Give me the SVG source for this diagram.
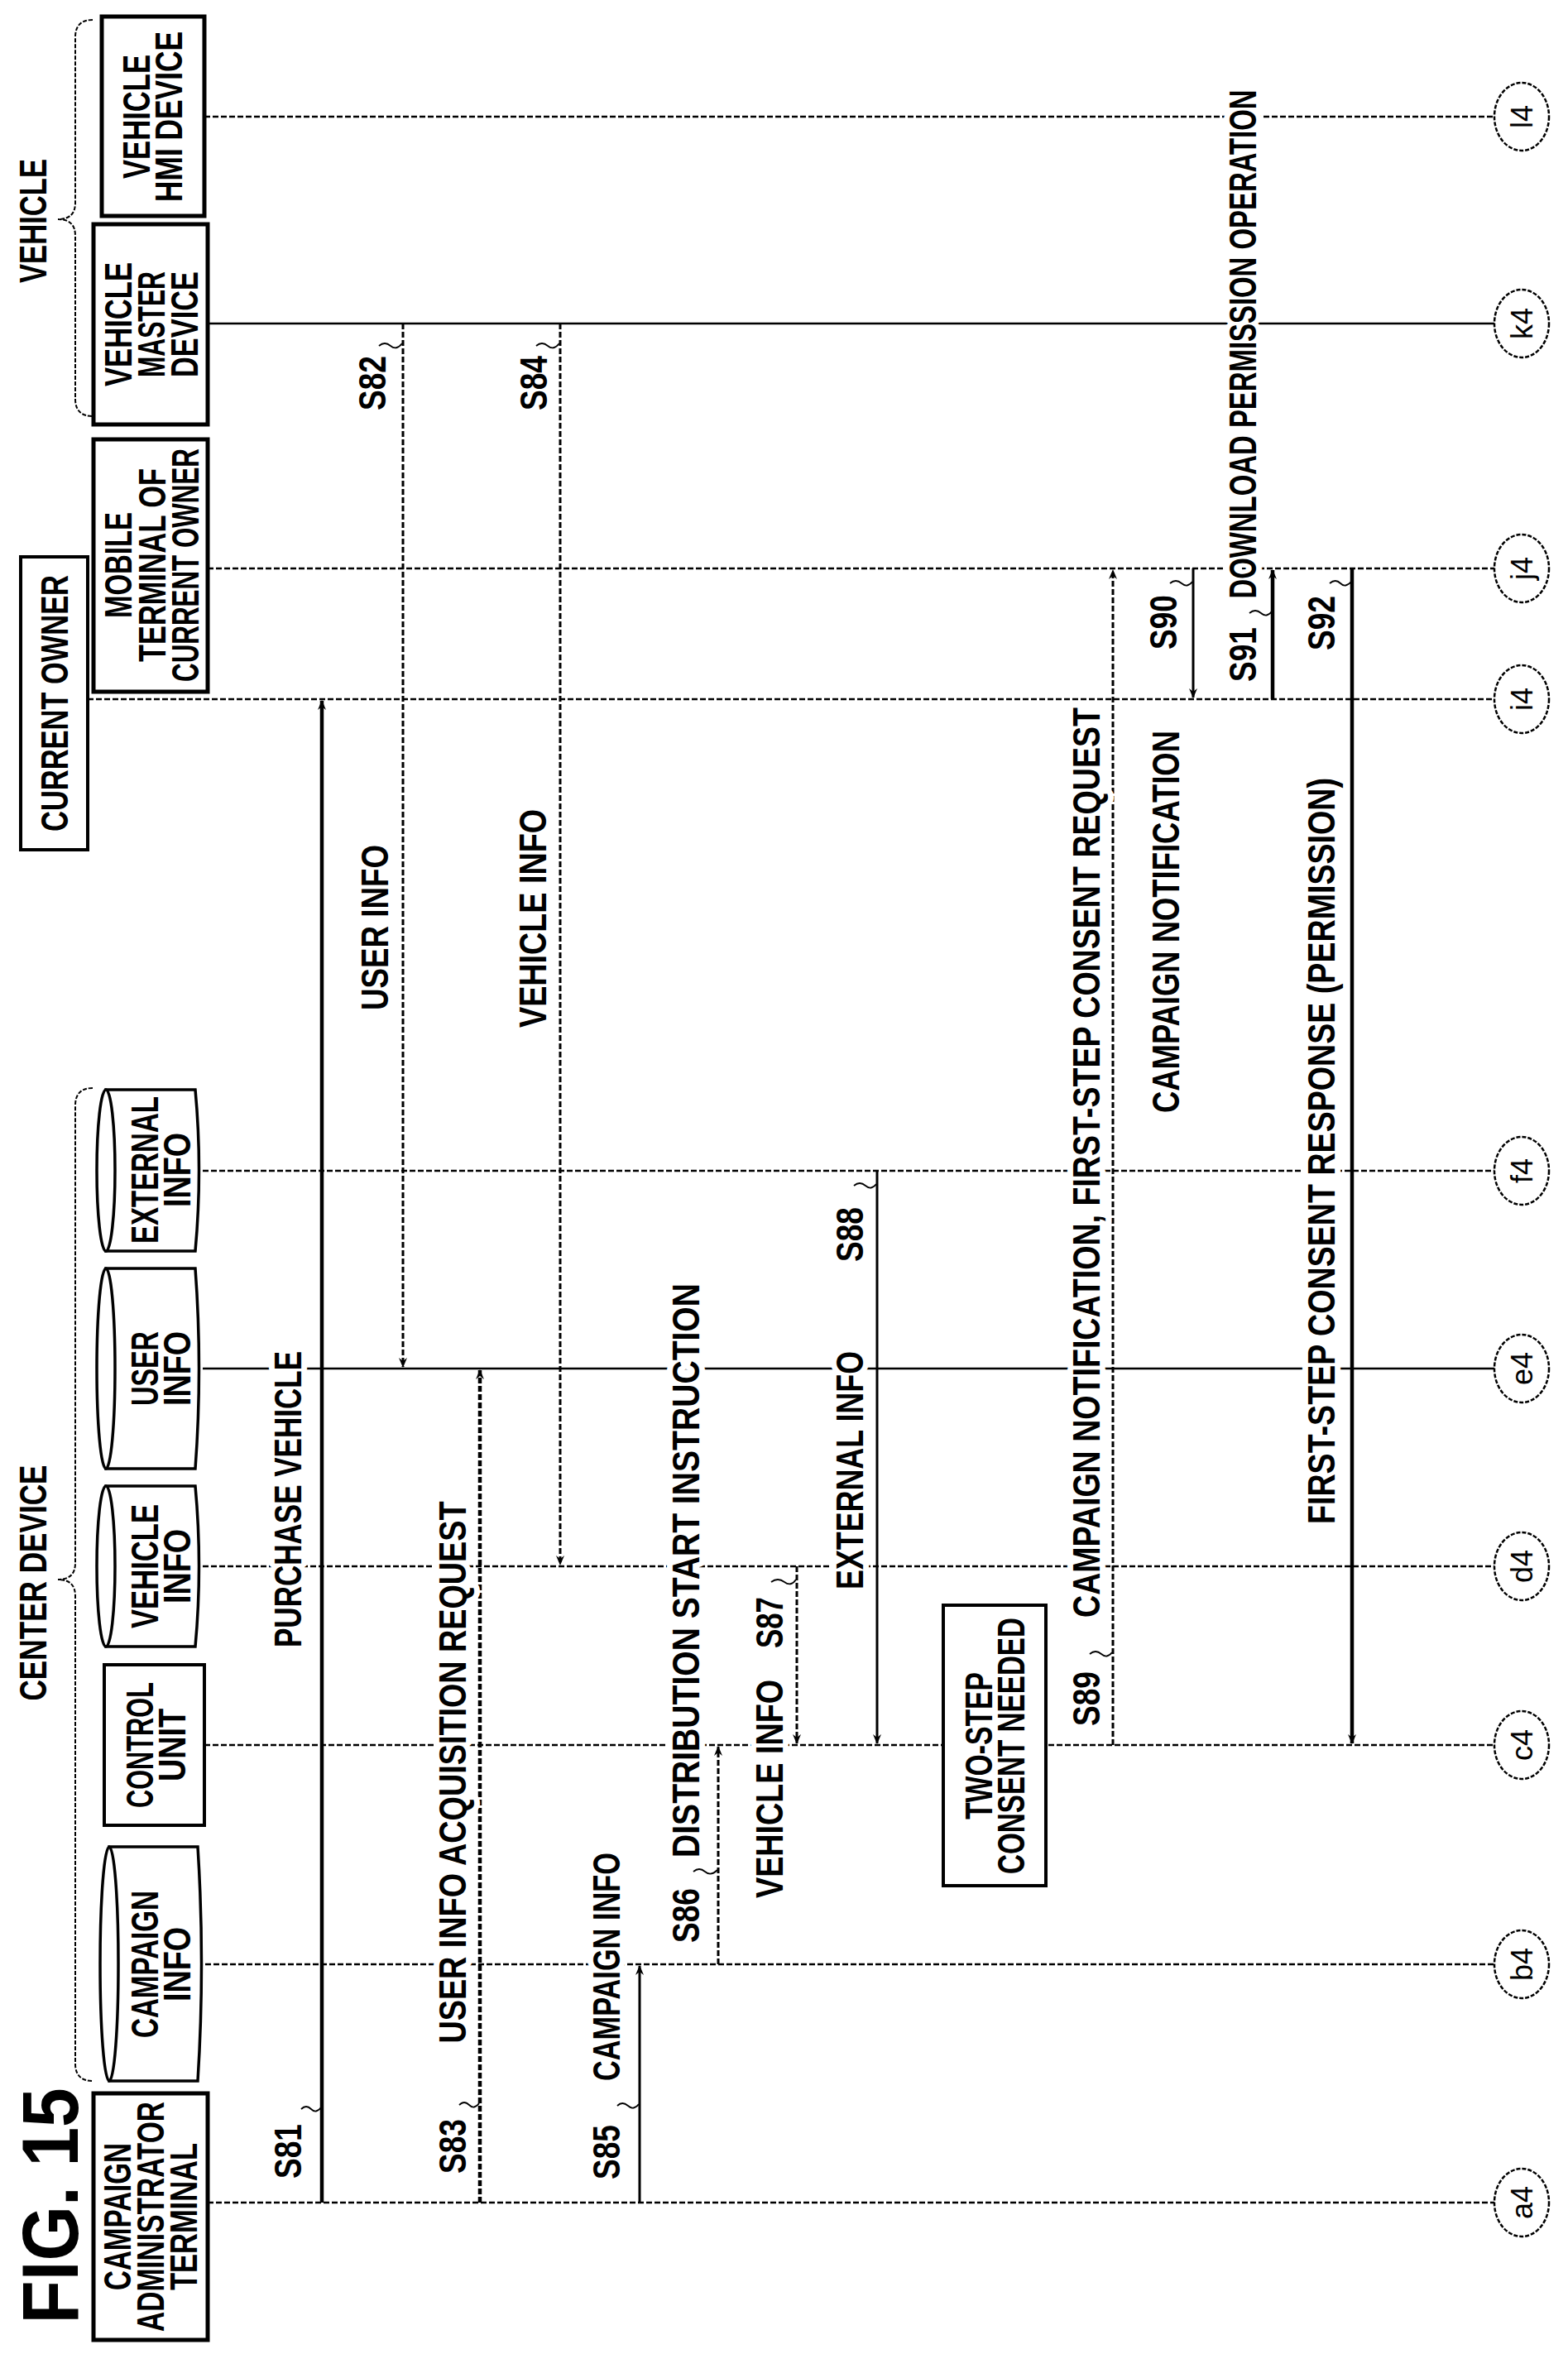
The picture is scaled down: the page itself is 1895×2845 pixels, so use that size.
<svg xmlns="http://www.w3.org/2000/svg" width="1895" height="2845" viewBox="0 0 1895 2845">
<style>
text{font-family:"Liberation Sans",Arial,sans-serif;font-size:46px;font-weight:bold;text-anchor:middle;dominant-baseline:central;fill:#000}
.lbl{stroke:#fff;stroke-width:14px;paint-order:stroke;stroke-linejoin:round}
.box{fill:#fff;stroke:#000;stroke-width:5}
.cyl{fill:#fff;stroke:#000;stroke-width:3.5}
.ll{stroke:#000;stroke-width:2.5;fill:none}
.dash{stroke-dasharray:7 3}
.msg{stroke:#000;stroke-width:3;fill:none;marker-end:url(#ah)}
.thick{stroke-width:4.5}
.tl{stroke:#000;stroke-width:1.8;fill:none}
.br{stroke:#000;stroke-width:2;fill:none;stroke-dasharray:5 2}
.conn{fill:#fff;stroke:#000;stroke-width:2.5;stroke-dasharray:5 2}
.ct{font-size:36px;font-weight:normal}
</style>
<defs>
<marker id="ah" markerWidth="12" markerHeight="10" refX="11" refY="5" orient="auto" markerUnits="userSpaceOnUse" viewBox="0 0 12 10">
<path d="M0,0 L12,5 L0,10 L4,5 Z" fill="#000"/>
</marker>
</defs>

<text transform="translate(60,2666) rotate(-90)" style="font-size:96px" textLength="285" lengthAdjust="spacingAndGlyphs">FIG. 15</text>
<text transform="translate(40,267) rotate(-90)" textLength="150" lengthAdjust="spacingAndGlyphs">VEHICLE</text>
<text transform="translate(40,1913) rotate(-90)" textLength="285" lengthAdjust="spacingAndGlyphs">CENTER DEVICE</text>
<path class="br" d="M112,24 Q91,24 91,45 L91,245 Q91,265 70,265 Q91,265 91,285 L91,482 Q91,503 112,503"/>
<path class="br" d="M112,1315 Q91,1315 91,1336 L91,1889 Q91,1909 70,1909 Q91,1909 91,1929 L91,2494 Q91,2515 112,2515"/>

<g id="lifelines">
<line class="ll dash" x1="247" y1="141" x2="1806" y2="141"/>
<line class="ll" x1="251" y1="391" x2="1806" y2="391"/>
<line class="ll dash" x1="251" y1="687" x2="1806" y2="687"/>
<line class="ll dash" x1="106" y1="845" x2="1806" y2="845"/>
<line class="ll dash" x1="245" y1="1415" x2="1806" y2="1415"/>
<line class="ll" x1="245" y1="1654" x2="1806" y2="1654"/>
<line class="ll dash" x1="245" y1="1893" x2="1806" y2="1893"/>
<line class="ll dash" x1="247" y1="2109" x2="1806" y2="2109"/>
<line class="ll dash" x1="248" y1="2374" x2="1806" y2="2374"/>
<line class="ll dash" x1="251" y1="2662" x2="1806" y2="2662"/>
</g>

<g id="vehicle-hmi"><rect class="box" x="123" y="20" width="124" height="241"/>
<text transform="translate(165,141) rotate(-90)" textLength="150" lengthAdjust="spacingAndGlyphs">VEHICLE</text>
<text transform="translate(204,141) rotate(-90)" textLength="206" lengthAdjust="spacingAndGlyphs">HMI DEVICE</text></g>

<g id="vehicle-master"><rect class="box" x="113" y="271" width="138" height="242"/>
<text transform="translate(143,392) rotate(-90)" textLength="150" lengthAdjust="spacingAndGlyphs">VEHICLE</text>
<text transform="translate(183,392) rotate(-90)" textLength="128" lengthAdjust="spacingAndGlyphs">MASTER</text>
<text transform="translate(223,392) rotate(-90)" textLength="128" lengthAdjust="spacingAndGlyphs">DEVICE</text></g>

<g id="mobile-terminal"><rect class="box" x="113" y="531" width="138" height="305"/>
<text transform="translate(143,683) rotate(-90)" textLength="128" lengthAdjust="spacingAndGlyphs">MOBILE</text>
<text transform="translate(184,683) rotate(-90)" textLength="234" lengthAdjust="spacingAndGlyphs">TERMINAL OF</text>
<text transform="translate(224,683) rotate(-90)" textLength="282" lengthAdjust="spacingAndGlyphs">CURRENT OWNER</text></g>

<g id="current-owner"><rect class="box" x="25" y="673" width="81" height="354" style="stroke-width:4"/>
<text transform="translate(66,850) rotate(-90)" textLength="310" lengthAdjust="spacingAndGlyphs">CURRENT OWNER</text></g>

<g id="external-info">
<path class="cyl" d="M128,1317 L236,1317 Q245,1414 236,1512 L128,1512 Z"/>
<ellipse class="cyl" cx="128" cy="1414.5" rx="11" ry="97.5"/>
<text transform="translate(175,1414) rotate(-90)" textLength="178" lengthAdjust="spacingAndGlyphs">EXTERNAL</text>
<text transform="translate(214,1414) rotate(-90)" textLength="90" lengthAdjust="spacingAndGlyphs">INFO</text></g>

<g id="user-info">
<path class="cyl" d="M128,1533 L236,1533 Q245,1654 236,1775 L128,1775 Z"/>
<ellipse class="cyl" cx="128" cy="1654" rx="11" ry="121"/>
<text transform="translate(175,1654) rotate(-90)" textLength="90" lengthAdjust="spacingAndGlyphs">USER</text>
<text transform="translate(214,1654) rotate(-90)" textLength="90" lengthAdjust="spacingAndGlyphs">INFO</text></g>

<g id="vehicle-info">
<path class="cyl" d="M128,1796 L236,1796 Q245,1893 236,1990 L128,1990 Z"/>
<ellipse class="cyl" cx="128" cy="1893" rx="11" ry="97"/>
<text transform="translate(175,1893) rotate(-90)" textLength="150" lengthAdjust="spacingAndGlyphs">VEHICLE</text>
<text transform="translate(214,1893) rotate(-90)" textLength="90" lengthAdjust="spacingAndGlyphs">INFO</text></g>

<g id="control-unit"><rect class="box" x="126" y="2012" width="121" height="194" style="stroke-width:4"/>
<text transform="translate(169,2109) rotate(-90)" textLength="152" lengthAdjust="spacingAndGlyphs">CONTROL</text>
<text transform="translate(208,2109) rotate(-90)" textLength="88" lengthAdjust="spacingAndGlyphs">UNIT</text></g>

<g id="campaign-info">
<path class="cyl" d="M132,2232 L239,2232 Q248,2373 239,2515 L132,2515 Z"/>
<ellipse class="cyl" cx="132" cy="2373.5" rx="11" ry="141.5"/>
<text transform="translate(175,2374) rotate(-90)" textLength="178" lengthAdjust="spacingAndGlyphs">CAMPAIGN</text>
<text transform="translate(214,2374) rotate(-90)" textLength="90" lengthAdjust="spacingAndGlyphs">INFO</text></g>

<g id="admin-terminal"><rect class="box" x="113" y="2530" width="138" height="298"/>
<text transform="translate(142,2679) rotate(-90)" textLength="178" lengthAdjust="spacingAndGlyphs">CAMPAIGN</text>
<text transform="translate(182,2679) rotate(-90)" textLength="278" lengthAdjust="spacingAndGlyphs">ADMINISTRATOR</text>
<text transform="translate(222,2679) rotate(-90)" textLength="178" lengthAdjust="spacingAndGlyphs">TERMINAL</text></g>

<g id="two-step"><rect class="box" x="1140" y="1940" width="124" height="339" style="stroke-width:4"/>
<text transform="translate(1183,2110) rotate(-90)" textLength="178" lengthAdjust="spacingAndGlyphs">TWO-STEP</text>
<text transform="translate(1222,2110) rotate(-90)" textLength="310" lengthAdjust="spacingAndGlyphs">CONSENT NEEDED</text></g>

<g id="connectors">
<line class="msg thick" x1="389" y1="2662" x2="389" y2="847"/>
<line class="msg dash" x1="487" y1="391" x2="487" y2="1652"/>
<line class="msg dash thick" x1="580" y1="2662" x2="580" y2="1656"/>
<line class="msg dash" x1="677" y1="391" x2="677" y2="1891"/>
<line class="msg" x1="773" y1="2662" x2="773" y2="2376"/>
<line class="msg dash" x1="868" y1="2374" x2="868" y2="2111"/>
<line class="msg dash" x1="963" y1="1893" x2="963" y2="2107"/>
<line class="msg" x1="1060" y1="1415" x2="1060" y2="2107"/>
<line class="msg dash" x1="1345" y1="2109" x2="1345" y2="689"/>
<line class="msg" x1="1442" y1="687" x2="1442" y2="843"/>
<line class="msg thick" x1="1538" y1="845" x2="1538" y2="689"/>
<line class="msg thick" x1="1634" y1="687" x2="1634" y2="2107"/>
<path class="tl" d="M364,2549 q6,-6 12,0 t12,-2"/>
<path class="tl" d="M458,418 q7,-6 14,0 t14,-3"/>
<path class="tl" d="M555,2544 q6,-6 12,0 t12,-2"/>
<path class="tl" d="M648,418 q7,-6 14,0 t14,-3"/>
<path class="tl" d="M746,2545 q6,-6 13,0 t13,-2"/>
<path class="tl" d="M838,2262 q7,-6 14,0 t15,-2"/>
<path class="tl" d="M932,1912 q8,-6 16,0 t14,-3"/>
<path class="tl" d="M1032,1433 q7,-6 14,0 t13,-2"/>
<path class="tl" d="M1317,1999 q7,-6 14,0 t13,-2"/>
<path class="tl" d="M1414,705 q7,-6 14,0 t13,-2"/>
<path class="tl" d="M1510,741 q7,-6 14,0 t13,-2"/>
<path class="tl" d="M1607,705 q7,-6 13,0 t13,-2"/>
<text class="lbl" transform="translate(348,1812) rotate(-90)" textLength="358" lengthAdjust="spacingAndGlyphs">PURCHASE VEHICLE</text>
<text class="lbl" transform="translate(348,2600) rotate(-90)" textLength="66" lengthAdjust="spacingAndGlyphs">S81</text>
<text class="lbl" transform="translate(453,1121) rotate(-90)" textLength="200" lengthAdjust="spacingAndGlyphs">USER INFO</text>
<text class="lbl" transform="translate(450,463) rotate(-90)" textLength="66" lengthAdjust="spacingAndGlyphs">S82</text>
<text class="lbl" transform="translate(547,2142) rotate(-90)" textLength="655" lengthAdjust="spacingAndGlyphs">USER INFO ACQUISITION REQUEST</text>
<text class="lbl" transform="translate(547,2594) rotate(-90)" textLength="66" lengthAdjust="spacingAndGlyphs">S83</text>
<text class="lbl" transform="translate(644,1110) rotate(-90)" textLength="264" lengthAdjust="spacingAndGlyphs">VEHICLE INFO</text>
<text class="lbl" transform="translate(645,463) rotate(-90)" textLength="66" lengthAdjust="spacingAndGlyphs">S84</text>
<text class="lbl" transform="translate(733,2377) rotate(-90)" textLength="276" lengthAdjust="spacingAndGlyphs">CAMPAIGN INFO</text>
<text class="lbl" transform="translate(733,2601) rotate(-90)" textLength="66" lengthAdjust="spacingAndGlyphs">S85</text>
<text class="lbl" transform="translate(829,1898) rotate(-90)" textLength="694" lengthAdjust="spacingAndGlyphs">DISTRIBUTION START INSTRUCTION</text>
<text class="lbl" transform="translate(829,2315) rotate(-90)" textLength="66" lengthAdjust="spacingAndGlyphs">S86</text>
<text class="lbl" transform="translate(930,2162) rotate(-90)" textLength="264" lengthAdjust="spacingAndGlyphs">VEHICLE INFO</text>
<text class="lbl" transform="translate(930,1961) rotate(-90)" textLength="62" lengthAdjust="spacingAndGlyphs">S87</text>
<text class="lbl" transform="translate(1027,1777) rotate(-90)" textLength="288" lengthAdjust="spacingAndGlyphs">EXTERNAL INFO</text>
<text class="lbl" transform="translate(1027,1492) rotate(-90)" textLength="66" lengthAdjust="spacingAndGlyphs">S88</text>
<text class="lbl" transform="translate(1313,1405) rotate(-90)" textLength="1100" lengthAdjust="spacingAndGlyphs">CAMPAIGN NOTIFICATION, FIRST-STEP CONSENT REQUEST</text>
<text class="lbl" transform="translate(1313,2053) rotate(-90)" textLength="66" lengthAdjust="spacingAndGlyphs">S89</text>
<text class="lbl" transform="translate(1409,1114) rotate(-90)" textLength="462" lengthAdjust="spacingAndGlyphs">CAMPAIGN NOTIFICATION</text>
<text class="lbl" transform="translate(1406,752) rotate(-90)" textLength="66" lengthAdjust="spacingAndGlyphs">S90</text>
<text class="lbl" transform="translate(1502,416) rotate(-90)" textLength="615" lengthAdjust="spacingAndGlyphs">DOWNLOAD PERMISSION OPERATION</text>
<text class="lbl" transform="translate(1502,791) rotate(-90)" textLength="66" lengthAdjust="spacingAndGlyphs">S91</text>
<text class="lbl" transform="translate(1597,1391) rotate(-90)" textLength="902" lengthAdjust="spacingAndGlyphs">FIRST-STEP CONSENT RESPONSE (PERMISSION)</text>
<text class="lbl" transform="translate(1597,753) rotate(-90)" textLength="66" lengthAdjust="spacingAndGlyphs">S92</text>
</g>

<g id="conn-l4"><ellipse class="conn" cx="1839" cy="141" rx="33" ry="41"/><text class="ct" transform="translate(1839,141) rotate(-90)">l4</text></g>
<g id="conn-k4"><ellipse class="conn" cx="1839" cy="391" rx="33" ry="41"/><text class="ct" transform="translate(1839,391) rotate(-90)">k4</text></g>
<g id="conn-j4"><ellipse class="conn" cx="1839" cy="687" rx="33" ry="41"/><text class="ct" transform="translate(1839,687) rotate(-90)">j4</text></g>
<g id="conn-i4"><ellipse class="conn" cx="1839" cy="845" rx="33" ry="41"/><text class="ct" transform="translate(1839,845) rotate(-90)">i4</text></g>
<g id="conn-f4"><ellipse class="conn" cx="1839" cy="1415" rx="33" ry="41"/><text class="ct" transform="translate(1839,1415) rotate(-90)">f4</text></g>
<g id="conn-e4"><ellipse class="conn" cx="1839" cy="1654" rx="33" ry="41"/><text class="ct" transform="translate(1839,1654) rotate(-90)">e4</text></g>
<g id="conn-d4"><ellipse class="conn" cx="1839" cy="1893" rx="33" ry="41"/><text class="ct" transform="translate(1839,1893) rotate(-90)">d4</text></g>
<g id="conn-c4"><ellipse class="conn" cx="1839" cy="2109" rx="33" ry="41"/><text class="ct" transform="translate(1839,2109) rotate(-90)">c4</text></g>
<g id="conn-b4"><ellipse class="conn" cx="1839" cy="2374" rx="33" ry="41"/><text class="ct" transform="translate(1839,2374) rotate(-90)">b4</text></g>
<g id="conn-a4"><ellipse class="conn" cx="1839" cy="2662" rx="33" ry="41"/><text class="ct" transform="translate(1839,2662) rotate(-90)">a4</text></g>
</svg>
